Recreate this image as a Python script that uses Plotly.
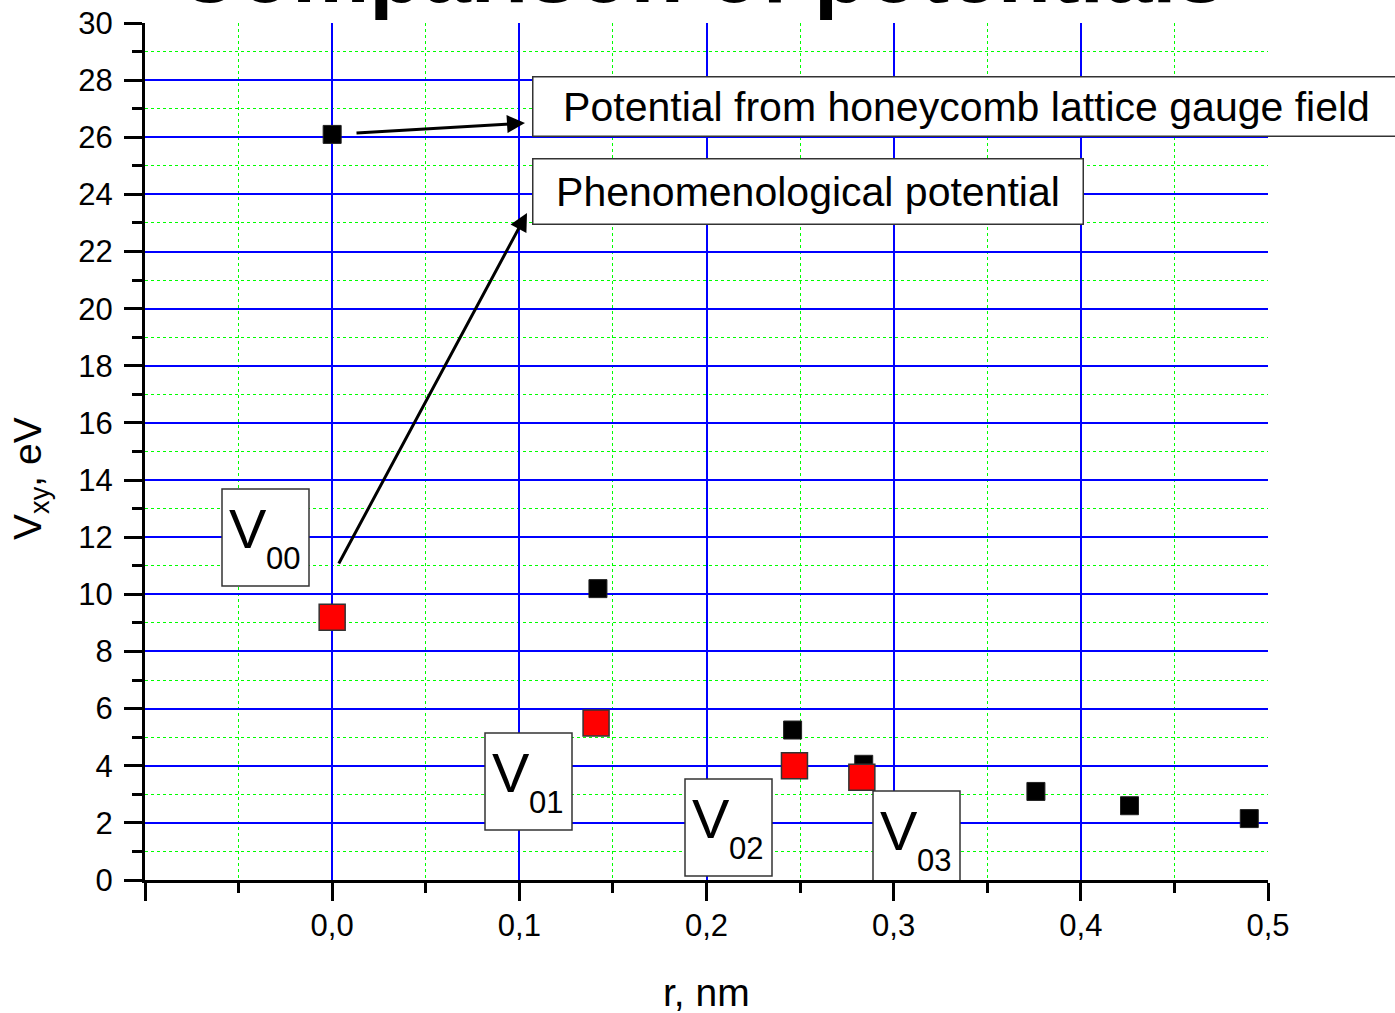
import plotly.graph_objects as go

# ---- data ----
r_honeycomb = [0.0, 0.142, 0.246, 0.284, 0.376, 0.426, 0.490]
v_honeycomb = [26.1, 10.2, 5.25, 4.05, 3.1, 2.6, 2.15]

r_phenom = [0.0, 0.141, 0.247, 0.283]
v_phenom = [9.2, 5.5, 4.0, 3.6]

x_tick_vals = [-0.1, 0.0, 0.1, 0.2, 0.3, 0.4, 0.5]
x_tick_text = ["", "0,0", "0,1", "0,2", "0,3", "0,4", "0,5"]
x_minor_vals = [-0.05, 0.05, 0.15, 0.25, 0.35, 0.45]

sub_labels = ["00", "01", "02", "03"]

# ---- layout geometry (pixels) ----
W, H = 1395, 1013
L, R, T, B = 145, 127, 23, 133
XMIN, XMAX, YMIN, YMAX = -0.1, 0.5, 0.0, 30.0
PW, PH = W - L - R, H - T - B


def px2x(px):
    return XMIN + (px - L) / PW * (XMAX - XMIN)


def py2y(py):
    return YMIN + (T + PH - py) / PH * (YMAX - YMIN)


def px2paper(px):
    return (px - L) / PW


def py2paper(py):
    return (T + PH - py) / PH


FONT = "Liberation Sans, Arial, sans-serif"

fig = go.Figure()
fig.add_trace(go.Scatter(
    x=r_honeycomb, y=v_honeycomb, mode="markers",
    marker=dict(symbol="square", size=18, color="black",
                line=dict(color="#222", width=1)),
    showlegend=False, cliponaxis=False,
))
fig.add_trace(go.Scatter(
    x=r_phenom, y=v_phenom, mode="markers",
    marker=dict(symbol="square", size=26, color="#ff0000",
                line=dict(color="#333", width=1.5)),
    showlegend=False, cliponaxis=False,
))

annotations = []
shapes = []

# title (cut off at top)
annotations.append(dict(
    text="<b>Comparison of potentials</b>", xref="paper", yref="paper",
    x=px2paper(700), y=py2paper(23), xanchor="center", yanchor="bottom",
    yshift=1, showarrow=False, font=dict(family=FONT, size=87, color="black"),
))

# axis titles
annotations.append(dict(
    text="r, nm", xref="paper", yref="paper",
    x=px2paper(706), y=py2paper(992), xanchor="center", yanchor="middle",
    showarrow=False, font=dict(family=FONT, size=39, color="black"),
))
annotations.append(dict(
    text="V<sub>xy</sub>, eV", xref="paper", yref="paper", textangle=-90,
    x=px2paper(30), y=py2paper(479), xanchor="center", yanchor="middle",
    showarrow=False, font=dict(family=FONT, size=39, color="black"),
))

# legend-like boxes
annotations.append(dict(
    text="Potential from honeycomb lattice gauge field", xref="x", yref="y",
    x=px2x(966), y=py2y(106), xanchor="center", yanchor="middle",
    width=866, height=58, bgcolor="white", bordercolor="#333",
    borderwidth=1.5, borderpad=0, showarrow=False,
    font=dict(family=FONT, size=41, color="black"),
))
annotations.append(dict(
    text="Phenomenological potential", xref="x", yref="y",
    x=px2x(807.5), y=py2y(191), xanchor="center", yanchor="middle",
    width=549, height=64, bgcolor="white", bordercolor="#333",
    borderwidth=1.5, borderpad=0, showarrow=False,
    font=dict(family=FONT, size=41, color="black"),
))

# arrows
for (tx, ty), (hx, hy) in [((355, 133), (525, 123)), ((338, 565), (527, 213))]:
    annotations.append(dict(
        text="", xref="x", yref="y", axref="x", ayref="y",
        x=px2x(hx), y=py2y(hy), ax=px2x(tx), ay=py2y(ty),
        showarrow=True, arrowhead=2, arrowsize=1.2, arrowwidth=3,
        arrowcolor="black",
    ))

# V boxes
box_pos = [(222, 489), (485, 733), (685, 779), (873, 791)]
for lab, (bl, bt) in zip(sub_labels, box_pos):
    shapes.append(dict(
        type="rect", xref="x", yref="y", layer="above",
        x0=px2x(bl), x1=px2x(bl + 87), y0=py2y(bt), y1=py2y(bt + 97),
        fillcolor="white", line=dict(color="#333", width=1.5),
    ))
    annotations.append(dict(
        text="V", xref="x", yref="y", x=px2x(bl + 25.5), y=py2y(bt + 39),
        xanchor="center", yanchor="middle", showarrow=False,
        font=dict(family=FONT, size=56, color="black"),
    ))
    annotations.append(dict(
        text=lab, xref="x", yref="y", x=px2x(bl + 61), y=py2y(bt + 69.5),
        xanchor="center", yanchor="middle", showarrow=False,
        font=dict(family=FONT, size=31, color="black"),
    ))

fig.update_layout(
    width=W, height=H, autosize=False,
    margin=dict(l=L, r=R, t=T, b=B, pad=0, autoexpand=False),
    paper_bgcolor="white", plot_bgcolor="white",
    annotations=annotations, shapes=shapes,
    font=dict(family=FONT, color="black"),
)

fig.update_xaxes(
    range=[XMIN, XMAX], tickmode="array", tickvals=x_tick_vals,
    ticktext=x_tick_text, ticks="outside", ticklen=18, tickwidth=3,
    tickcolor="black", showline=True, linewidth=3, linecolor="black",
    showgrid=True, gridcolor="#0000ff", gridwidth=1.5, zeroline=False,
    automargin=False,
    tickfont=dict(family=FONT, size=31, color="black"), ticklabelstandoff=-2,
    minor=dict(tickmode="array", tickvals=x_minor_vals, ticks="outside",
               ticklen=10, tickwidth=3, tickcolor="black", showgrid=True,
               gridcolor="#00ff00", griddash="dot", gridwidth=1),
)
fig.update_yaxes(
    range=[YMIN, YMAX], tickmode="linear", tick0=0, dtick=2,
    ticks="outside", ticklen=18, tickwidth=3, tickcolor="black",
    showline=True, linewidth=3, linecolor="black",
    showgrid=True, gridcolor="#0000ff", gridwidth=1.5, zeroline=False,
    automargin=False,
    tickfont=dict(family=FONT, size=31, color="black"), ticklabelstandoff=5,
    minor=dict(dtick=1, ticks="outside", ticklen=10, tickwidth=3,
               tickcolor="black", showgrid=True, gridcolor="#00ff00",
               griddash="dot", gridwidth=1),
)

fig.write_html("out.html")
